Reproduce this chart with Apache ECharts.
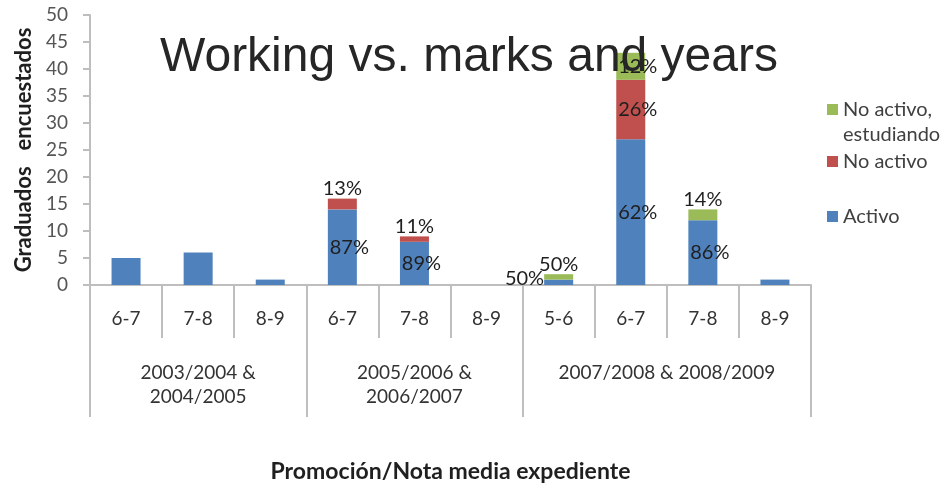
<!DOCTYPE html>
<html>
<head>
<meta charset="utf-8">
<script src="https://cdn.jsdelivr.net/npm/echarts@6/dist/echarts.min.js"></script>
<style>
  html, body { margin: 0; padding: 0; background: #fff; }
  #chart { width: 947px; height: 485px; }
</style>
</head>
<body>
<div id="chart"></div>
<script>
// categorias (nota media) y promociones
var categories = ["6-7", "7-8", "8-9", "6-7", "7-8", "8-9", "5-6", "6-7", "7-8", "8-9"];
var groups = ["2003/2004 &\n2004/2005", "2005/2006 &\n2006/2007", "2007/2008 & 2008/2009"];
var groupSizes = [3, 3, 4];
var yTicks = [0, 5, 10, 15, 20, 25, 30, 35, 40, 45, 50];

var activo = [5, 6, 1, 14, 8, 0, 1, 27, 12, 1];
var noActivo = [0, 0, 0, 2, 1, 0, 0, 11, 0, 0];
var noActivoEst = [0, 0, 0, 0, 0, 0, 1, 5, 2, 0];

var activoPct = ["", "", "", "87%", "89%", "", "50%", "62%", "86%", ""];
var noActivoPct = ["", "", "", "13%", "11%", "", "", "26%", "", ""];
var noActivoEstPct = ["", "", "", "", "", "", "50%", "12%", "14%", ""];

var BLUE = "#4F81BD", RED = "#C0504D", GREEN = "#9BBB59";
var AXIS = "#BEBEBE";
var FONT = "Lato, 'Open Sans', sans-serif";

// limites y centros de grupos sobre el eje 0..10
var bounds = [0], centers = [];
groupSizes.forEach(function(n) {
  var start = bounds[bounds.length - 1];
  centers.push(start + n / 2);
  bounds.push(start + n);
});

function buildData(values, texts, smallPos) {
  return values.map(function(v, i) {
    var t = texts[i];
    var big = v >= 3;
    return {
      value: v,
      label: {
        show: t !== "",
        formatter: t,
        position: big ? "inside" : smallPos,
        distance: 0,
        offset: big ? [7, 0] : (smallPos === "left" ? [0, -4] : [0, 0])
      }
    };
  });
}

var labelStyle = {
  fontFamily: FONT,
  fontSize: 20,
  color: "#1f1f1f"
};

var legendText = { fontFamily: FONT, fontSize: 20, lineHeight: 25, color: "#404040" };

var chart = echarts.init(document.getElementById("chart"));
chart.setOption({
  animation: false,
  backgroundColor: "#fff",
  title: {
    text: "Working vs. marks and years",
    left: 160,
    top: 34,
    padding: 0,
    textStyle: {
      fontFamily: "'Liberation Sans', Arial, sans-serif",
      fontSize: 48,
      fontWeight: "normal",
      color: "#262626"
    }
  },
  legend: [
    {
      // cuadro arriba, alineado con la primera linea del texto
      data: ["No activo, estudiando"],
      left: 827, top: 97, padding: 0,
      icon: "path://M0,0H11V11H0Z M0,36H11V36.01H0Z",
      itemWidth: 11, itemHeight: 36,
      formatter: function(n) { return n.replace(", ", ",\n"); },
      textStyle: legendText
    },
    {
      data: ["No activo"],
      left: 827, top: 149, padding: 0,
      icon: "rect", itemWidth: 11, itemHeight: 11,
      textStyle: legendText
    },
    {
      data: ["Activo"],
      left: 827, top: 204, padding: 0,
      icon: "rect", itemWidth: 11, itemHeight: 11,
      textStyle: legendText
    }
  ],
  grid: {
    left: 90,
    right: 136,
    top: 15,
    bottom: 200,
    outerBoundsMode: "none"
  },
  xAxis: [
    {
      type: "category",
      data: categories,
      position: "bottom",
      offset: 0,
      axisLine: { lineStyle: { color: AXIS, width: 2 } },
      axisTick: { show: true, interval: 0, length: 53, lineStyle: { color: AXIS, width: 2 } },
      axisLabel: { interval: 0, margin: 24, fontFamily: FONT, fontSize: 19, color: "#333" },
      name: "Promoción/Nota media expediente",
      nameLocation: "middle",
      nameGap: 175,
      nameTextStyle: { fontFamily: FONT, fontSize: 23, fontWeight: "bold", color: "#1f1f1f" }
    },
    {
      type: "value",
      min: 0,
      max: bounds[bounds.length - 1],
      position: "bottom",
      offset: 0,
      splitLine: { show: false },
      axisLine: { show: false },
      axisTick: {
        show: true,
        customValues: bounds,
        length: 132,
        lineStyle: { color: AXIS, width: 2 }
      },
      axisLabel: {
        customValues: centers,
        margin: 76,
        fontFamily: FONT,
        fontSize: 19,
        lineHeight: 24,
        color: "#333",
        formatter: function(v) {
          var i = centers.indexOf(v);
          return i >= 0 ? groups[i] : "";
        }
      }
    }
  ],
  yAxis: {
    type: "value",
    min: yTicks[0],
    max: yTicks[yTicks.length - 1],
    interval: yTicks[1] - yTicks[0],
    splitLine: { show: false },
    axisLine: { show: true, lineStyle: { color: AXIS, width: 2 } },
    axisTick: { show: true, length: 7, lineStyle: { color: AXIS, width: 2 } },
    axisLabel: {
      margin: 22,
      fontFamily: FONT,
      fontSize: 19,
      color: "#555"
    },
    name: "Graduados   encuestados",
    nameLocation: "middle",
    nameGap: 52,
    nameTextStyle: { fontFamily: FONT, fontSize: 22, fontWeight: "bold", color: "#1f1f1f" }
  },
  series: [
    {
      name: "Activo",
      type: "bar",
      stack: "total",
      xAxisIndex: 0,
      barWidth: 29,
      itemStyle: { color: BLUE },
      label: labelStyle,
      data: buildData(activo, activoPct, "left")
    },
    {
      name: "No activo",
      type: "bar",
      stack: "total",
      xAxisIndex: 0,
      barWidth: 29,
      itemStyle: { color: RED },
      label: labelStyle,
      data: buildData(noActivo, noActivoPct, "top")
    },
    {
      name: "No activo, estudiando",
      type: "bar",
      stack: "total",
      xAxisIndex: 0,
      barWidth: 29,
      itemStyle: { color: GREEN },
      label: labelStyle,
      data: buildData(noActivoEst, noActivoEstPct, "top")
    }
  ]
});
</script>
</body>
</html>
